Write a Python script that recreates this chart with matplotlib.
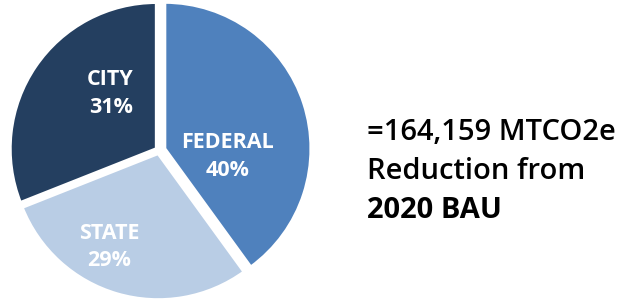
import matplotlib.pyplot as plt

labels = ["FEDERAL", "STATE", "CITY"]
shares = [40, 29, 31]
colors = ["#4F81BD", "#B9CDE5", "#243F60"]
explode = [0.04, 0.02, 0.02]
# label positions in pie units (radius 1 at the centre)
label_xy = [(0.47, -0.04), (-0.34, -0.66), (-0.33, 0.39)]
note_lines = ["=164,159 MTCO2e", "Reduction from", "2020 BAU"]
note_weights = ["semibold", "semibold", "bold"]

fig = plt.figure(figsize=(6.33, 3.01), dpi=100)
ax = fig.add_axes([8 / 633, 0.0, 302 / 633, 1.0])

ax.pie(shares, colors=colors, startangle=90, counterclock=False,
       explode=explode, radius=1.0,
       wedgeprops=dict(edgecolor="white", linewidth=2.5))
ax.set_xlim(-1.03, 1.03)
ax.set_ylim(-1.025, 1.025)
ax.set_aspect("equal")
ax.axis("off")

for name, value, (x, y) in zip(labels, shares, label_xy):
    ax.text(x, y, f"{name}\n{value}%", ha="center", va="center",
            color="white", fontsize=15.5, fontweight="bold",
            family="Open Sans", linespacing=1.4)

for i, (line, weight) in enumerate(zip(note_lines, note_weights)):
    fig.text(367 / 633, 1 - (133 + 38.5 * i) / 301, line, ha="left", va="center",
             fontsize=21, family="Open Sans", fontweight=weight, color="black")

fig.savefig("out.png", dpi=100)
